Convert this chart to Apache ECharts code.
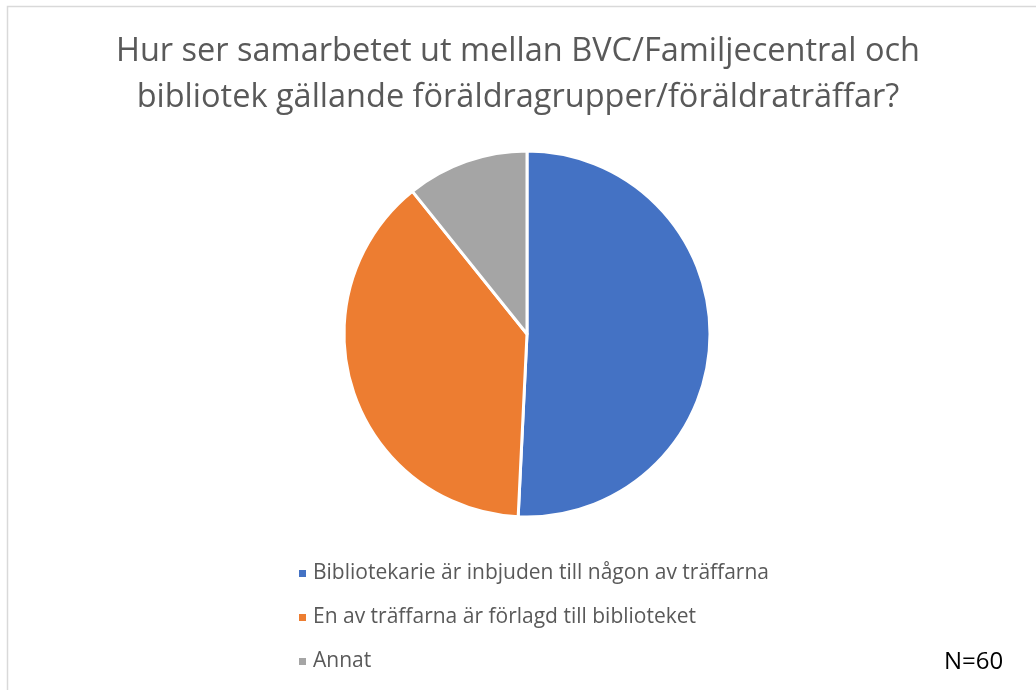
<!DOCTYPE html>
<html>
<head>
<meta charset="utf-8">
<script src="https://cdn.jsdelivr.net/npm/echarts@6/dist/echarts.min.js"></script>
<style>
  html, body { margin: 0; padding: 0; background: #fff; }
  #main { width: 1036px; height: 690px; }
</style>
</head>
<body>
<div id="main"></div>
<script>
// svar (antal)
var categories = [
  'Bibliotekarie är inbjuden till någon av träffarna',
  'En av träffarna är förlagd till biblioteket',
  'Annat'
];
var values = [33, 25, 7];
var colors = ['#4472C4', '#ED7D31', '#A5A5A5'];

var titleText = 'Hur ser samarbetet ut mellan BVC/Familjecentral och\nbibliotek gällande föräldragrupper/föräldraträffar?';
var noteText = 'N=60';

var myChart = echarts.init(document.getElementById('main'));

var option = {
  animation: false,
  color: colors,
  title: {
    text: titleText,
    left: 'center',
    top: 24,
    textStyle: {
      fontFamily: 'Open Sans',
      fontWeight: 'normal',
      fontSize: 32.5,
      lineHeight: 46,
      color: '#595959'
    }
  },
  legend: {
    orient: 'vertical',
    left: 292,
    top: 558,
    itemWidth: 9,
    itemHeight: 9,
    itemGap: 23,
    icon: 'rect',
    textStyle: {
      fontFamily: 'Open Sans',
      fontSize: 21,
      color: '#595959',
      padding: [0, 0, 0, 1]
    },
    data: categories
  },
  graphic: [
    {
      type: 'rect',
      shape: { x: 7.5, y: 6.5, width: 1100, height: 800 },
      style: { fill: 'none', stroke: '#d9d9d9', lineWidth: 1.5 }
    },
    {
      type: 'text',
      left: 944,
      top: 650,
      style: {
        text: noteText,
        font: '24px "Open Sans"',
        fill: '#000'
      }
    }
  ],
  series: [
    {
      type: 'pie',
      center: [527, 334],
      radius: 183,
      startAngle: 90,
      clockwise: true,
      label: { show: false },
      labelLine: { show: false },
      itemStyle: { borderColor: '#fff', borderWidth: 3 },
      emphasis: { disabled: true },
      data: categories.map(function (name, i) {
        return { name: name, value: values[i] };
      })
    }
  ]
};

myChart.setOption(option);
</script>
</body>
</html>
